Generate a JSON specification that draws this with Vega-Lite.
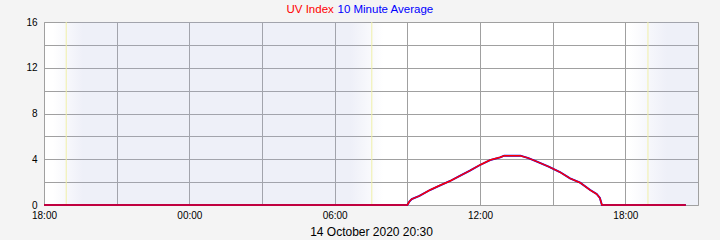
{
  "$schema": "https://vega.github.io/schema/vega-lite/v6.json",
  "width": 654,
  "height": 183,
  "autosize": {"type": "none"},
  "padding": {"left": 44, "top": 22, "right": 22, "bottom": 35},
  "background": "#f4f4f4",
  "config": {
    "view": {"fill": "white", "stroke": "#a0a0a0", "strokeWidth": 1},
    "font": "Liberation Sans",
    "axis": {
      "domain": false,
      "ticks": false,
      "gridColor": "#a0a0a0",
      "gridOpacity": 1,
      "gridWidth": 1,
      "labelFont": "Liberation Sans",
      "labelFontSize": 10,
      "labelColor": "black",
      "labelOverlap": false,
      "labelFlush": false
    }
  },
  "datasets": {
    "uv": [
      {"t": "2020-10-13T18:00:00", "uv": 0},
      {"t": "2020-10-14T09:00:00", "uv": 0},
      {"t": "2020-10-14T09:05:00", "uv": 0.3},
      {"t": "2020-10-14T09:11:00", "uv": 0.52},
      {"t": "2020-10-14T09:30:00", "uv": 0.8},
      {"t": "2020-10-14T09:56:00", "uv": 1.31},
      {"t": "2020-10-14T10:20:00", "uv": 1.7},
      {"t": "2020-10-14T10:46:00", "uv": 2.1},
      {"t": "2020-10-14T11:10:00", "uv": 2.55},
      {"t": "2020-10-14T11:35:00", "uv": 3.0},
      {"t": "2020-10-14T12:00:00", "uv": 3.5},
      {"t": "2020-10-14T12:25:00", "uv": 3.93},
      {"t": "2020-10-14T12:50:00", "uv": 4.17},
      {"t": "2020-10-14T13:00:00", "uv": 4.31},
      {"t": "2020-10-14T13:40:00", "uv": 4.31},
      {"t": "2020-10-14T14:00:00", "uv": 4.1},
      {"t": "2020-10-14T14:21:00", "uv": 3.79},
      {"t": "2020-10-14T14:50:00", "uv": 3.35},
      {"t": "2020-10-14T15:18:00", "uv": 2.88},
      {"t": "2020-10-14T15:43:00", "uv": 2.33},
      {"t": "2020-10-14T16:08:00", "uv": 1.95},
      {"t": "2020-10-14T16:33:00", "uv": 1.31},
      {"t": "2020-10-14T16:49:00", "uv": 0.96},
      {"t": "2020-10-14T16:57:00", "uv": 0.61},
      {"t": "2020-10-14T17:02:00", "uv": 0},
      {"t": "2020-10-14T20:30:00", "uv": 0}
    ],
    "night": [
      {"t": "2020-10-13T19:37:00", "t2": "2020-10-14T06:38:00"},
      {"t": "2020-10-14T19:43:00", "t2": "2020-10-14T21:00:00"}
    ],
    "dusk": [
      {"t": "2020-10-13T18:22:00", "t2": "2020-10-13T19:37:00"},
      {"t": "2020-10-14T18:11:00", "t2": "2020-10-14T19:43:00"}
    ],
    "dawn": [
      {"t": "2020-10-14T06:38:00", "t2": "2020-10-14T08:00:00"}
    ],
    "sun": [
      {"t": "2020-10-13T18:55:00"},
      {"t": "2020-10-14T07:32:00"},
      {"t": "2020-10-14T18:56:00"}
    ]
  },
  "encoding": {
    "x": {
      "field": "t",
      "type": "temporal",
      "scale": {
        "domain": [
          {"year": 2020, "month": 10, "date": 13, "hours": 18},
          {"year": 2020, "month": 10, "date": 14, "hours": 21}
        ]
      },
      "axis": {
        "values": [
          {"year": 2020, "month": 10, "date": 13, "hours": 18},
          {"year": 2020, "month": 10, "date": 13, "hours": 21},
          {"year": 2020, "month": 10, "date": 14, "hours": 0},
          {"year": 2020, "month": 10, "date": 14, "hours": 3},
          {"year": 2020, "month": 10, "date": 14, "hours": 6},
          {"year": 2020, "month": 10, "date": 14, "hours": 9},
          {"year": 2020, "month": 10, "date": 14, "hours": 12},
          {"year": 2020, "month": 10, "date": 14, "hours": 15},
          {"year": 2020, "month": 10, "date": 14, "hours": 18}
        ],
        "labelExpr": "hours(datum.value) % 6 == 0 ? timeFormat(datum.value, '%H:%M') : ''",
        "labelPadding": 5,
        "title": "14 October 2020 20:30",
        "titleFont": "Liberation Sans",
        "titleFontSize": 12,
        "titleFontWeight": "normal",
        "titleColor": "black",
        "titlePadding": 6
      }
    }
  },
  "resolve": {"axis": {"y": "independent"}},
  "layer": [
    {
      "data": {"name": "night"},
      "mark": {"type": "rect", "fill": "rgb(170,178,220)", "fillOpacity": 0.2},
      "encoding": {"x2": {"field": "t2"}}
    },
    {
      "data": {"name": "dusk"},
      "mark": {
        "type": "rect",
        "fill": {
          "gradient": "linear",
          "x1": 0, "y1": 0, "x2": 1, "y2": 0,
          "stops": [
            {"offset": 0, "color": "rgba(170,178,220,0)"},
            {"offset": 1, "color": "rgba(170,178,220,0.2)"}
          ]
        }
      },
      "encoding": {"x2": {"field": "t2"}}
    },
    {
      "data": {"name": "dawn"},
      "mark": {
        "type": "rect",
        "fill": {
          "gradient": "linear",
          "x1": 0, "y1": 0, "x2": 1, "y2": 0,
          "stops": [
            {"offset": 0, "color": "rgba(170,178,220,0.2)"},
            {"offset": 1, "color": "rgba(170,178,220,0)"}
          ]
        }
      },
      "encoding": {"x2": {"field": "t2"}}
    },
    {
      "data": {"name": "sun"},
      "mark": {"type": "rule", "color": "#f0f0a8", "strokeWidth": 1},
      "encoding": {}
    },
    {
      "data": {"name": "uv"},
      "mark": {"type": "line", "color": "blue", "strokeWidth": 1.9},
      "encoding": {
        "y": {
          "field": "uv",
          "type": "quantitative",
          "scale": {"domain": [0, 16], "nice": false},
          "axis": {
            "values": [0, 2, 4, 6, 8, 10, 12, 14, 16],
            "labelExpr": "datum.value % 4 == 0 ? datum.label : ''",
            "labelPadding": 7,
            "title": "10 Minute Average",
            "titleColor": "blue",
            "titleFont": "Liberation Sans",
            "titleFontSize": 11.5,
            "titleFontWeight": "normal",
            "titleAngle": 0,
            "titleAlign": "left",
            "titleBaseline": "alphabetic",
            "titleX": 293,
            "titleY": -10
          }
        }
      }
    },
    {
      "data": {"name": "uv"},
      "mark": {"type": "line", "color": "red", "strokeWidth": 1.5},
      "encoding": {
        "y": {
          "field": "uv",
          "type": "quantitative",
          "scale": {"domain": [0, 16], "nice": false},
          "axis": {
            "orient": "right",
            "labels": false,
            "grid": false,
            "title": "UV Index",
            "titleColor": "red",
            "titleFont": "Liberation Sans",
            "titleFontSize": 11.5,
            "titleFontWeight": "normal",
            "titleAngle": 0,
            "titleAlign": "left",
            "titleBaseline": "alphabetic",
            "titleX": -412,
            "titleY": -10
          }
        }
      }
    }
  ]
}
